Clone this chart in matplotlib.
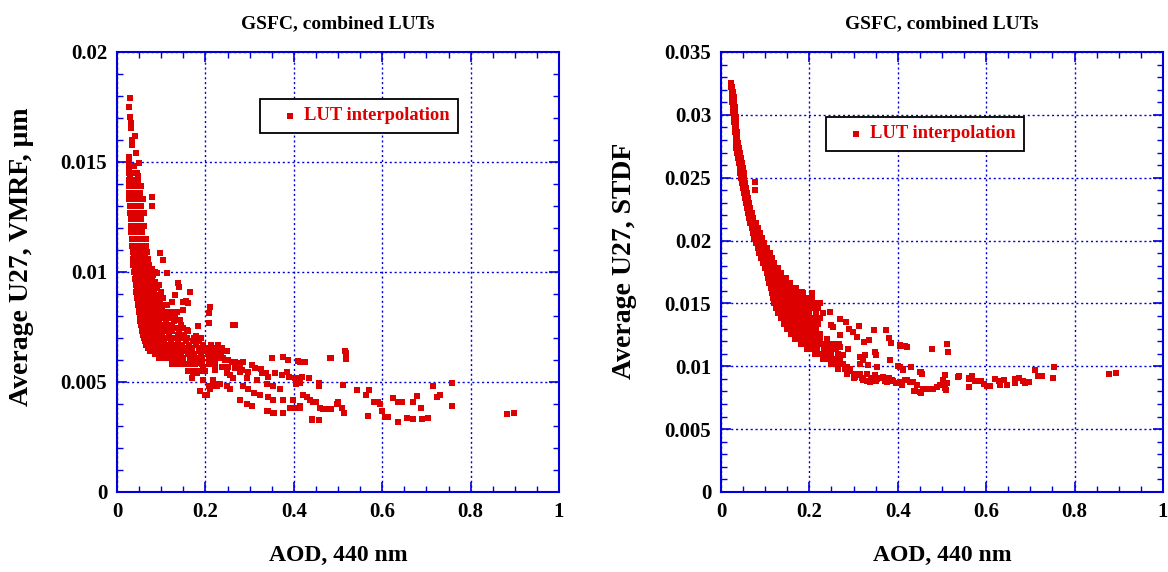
import matplotlib
matplotlib.use("Agg")
import matplotlib.pyplot as plt
from matplotlib.ticker import MultipleLocator, FuncFormatter

# ---------------- data ----------------
title_text = "GSFC, combined LUTs"
legend_text = "LUT interpolation"
x_label = "AOD, 440 nm"
left_ylabel = "Average U27, VMRF, \u03bcm"
right_ylabel = "Average U27, STDF"

# Left panel: dense core, rows of (VMRF, [AOD values])
left_core_rows = [
    (0.0148, [0.026, 0.030, 0.034, 0.038]),
    (0.0145, [0.027, 0.031, 0.036, 0.045]),
    (0.0142, [0.028, 0.033, 0.040, 0.048]),
    (0.0139, [0.026, 0.030, 0.035, 0.041, 0.047, 0.055]),
    (0.0136, [0.028, 0.033, 0.038, 0.044, 0.052]),
    (0.0133, [0.027, 0.031, 0.036, 0.042, 0.049, 0.058]),
    (0.0130, [0.029, 0.034, 0.040, 0.046, 0.054]),
    (0.0127, [0.030, 0.035, 0.041, 0.047, 0.052, 0.060]),
    (0.0124, [0.031, 0.036, 0.042, 0.048, 0.055]),
    (0.0121, [0.032, 0.037, 0.043, 0.049, 0.056, 0.062]),
    (0.0118, [0.032, 0.038, 0.044, 0.050, 0.057]),
    (0.0115, [0.033, 0.039, 0.045, 0.051, 0.058, 0.065]),
    (0.0112, [0.034, 0.040, 0.046, 0.052, 0.059, 0.066]),
    (0.0109, [0.035, 0.041, 0.047, 0.053, 0.060, 0.068]),
    (0.01075, [0.038, 0.044, 0.050, 0.057, 0.064]),
    (0.0106, [0.036, 0.042, 0.048, 0.054, 0.061, 0.070]),
    (0.01045, [0.039, 0.045, 0.052, 0.059, 0.066]),
    (0.0103, [0.037, 0.043, 0.049, 0.055, 0.062, 0.072]),
    (0.01015, [0.041, 0.047, 0.053, 0.060, 0.068, 0.080]),
    (0.0100, [0.039, 0.045, 0.051, 0.057, 0.064, 0.075, 0.085]),
    (0.00985, [0.043, 0.049, 0.055, 0.062, 0.070, 0.082]),
    (0.0097, [0.040, 0.046, 0.052, 0.058, 0.066, 0.078]),
    (0.00955, [0.044, 0.051, 0.057, 0.064, 0.073, 0.087]),
    (0.0094, [0.042, 0.048, 0.054, 0.060, 0.068, 0.080, 0.095]),
    (0.00925, [0.046, 0.053, 0.059, 0.067, 0.076, 0.090]),
    (0.0091, [0.044, 0.050, 0.056, 0.063, 0.071, 0.083, 0.100]),
    (0.00895, [0.045, 0.053, 0.062, 0.072, 0.085]),
    (0.0088, [0.046, 0.052, 0.058, 0.065, 0.072, 0.080, 0.088, 0.097, 0.105]),
    (0.00865, [0.047, 0.055, 0.064, 0.074, 0.086, 0.098]),
    (0.0085, [0.048, 0.054, 0.061, 0.068, 0.075, 0.083, 0.091, 0.100, 0.112]),
    (0.00835, [0.049, 0.057, 0.066, 0.076, 0.088, 0.102]),
    (0.0082, [0.050, 0.056, 0.063, 0.070, 0.077, 0.085, 0.094, 0.104, 0.118, 0.135]),
    (0.00805, [0.051, 0.059, 0.068, 0.079, 0.091, 0.106, 0.125]),
    (0.0079, [0.052, 0.058, 0.065, 0.072, 0.080, 0.088, 0.097, 0.107, 0.120, 0.132]),
    (0.00775, [0.053, 0.061, 0.070, 0.081, 0.094, 0.110, 0.128]),
    (0.0076, [0.054, 0.061, 0.068, 0.075, 0.083, 0.091, 0.100, 0.110, 0.125, 0.145]),
    (0.00745, [0.056, 0.064, 0.074, 0.085, 0.098, 0.115, 0.135, 0.150]),
    (0.0073, [0.057, 0.064, 0.071, 0.078, 0.086, 0.094, 0.103, 0.113, 0.125, 0.140, 0.160]),
    (0.00715, [0.059, 0.067, 0.077, 0.088, 0.101, 0.118, 0.138, 0.152]),
    (0.0070, [0.060, 0.067, 0.074, 0.081, 0.089, 0.097, 0.106, 0.116, 0.128, 0.142,
              0.158, 0.175, 0.190]),
    (0.00685, [0.063, 0.071, 0.081, 0.093, 0.107, 0.122, 0.138, 0.155, 0.172, 0.185]),
    (0.0067, [0.065, 0.072, 0.079, 0.087, 0.095, 0.104, 0.113, 0.123, 0.135, 0.148,
              0.162, 0.178, 0.195, 0.212, 0.228]),
    (0.00655, [0.070, 0.079, 0.089, 0.100, 0.112, 0.126, 0.140, 0.155, 0.170, 0.186,
               0.202, 0.220, 0.238]),
    (0.0064, [0.075, 0.083, 0.091, 0.100, 0.110, 0.120, 0.131, 0.143, 0.156, 0.170,
              0.185, 0.200, 0.215, 0.230, 0.248]),
    (0.00625, [0.085, 0.095, 0.106, 0.118, 0.131, 0.145, 0.160, 0.175, 0.190, 0.205,
               0.220, 0.235]),
    (0.0061, [0.095, 0.104, 0.114, 0.125, 0.137, 0.150, 0.164, 0.178, 0.193, 0.208,
              0.224, 0.240]),
    (0.0058, [0.125, 0.137, 0.150, 0.163, 0.177, 0.192, 0.207, 0.222]),
    (0.0055, [0.160, 0.172, 0.185, 0.200]),
]

# Left panel: individual points (AOD, VMRF)
left_points = [
    (0.029, 0.01789), (0.027, 0.01748), (0.029, 0.01706), (0.032, 0.01676),
    (0.031, 0.01653), (0.041, 0.01618), (0.033, 0.01600), (0.033, 0.01577),
    (0.042, 0.01542), (0.027, 0.01524), (0.027, 0.01501), (0.050, 0.01497),
    (0.026, 0.01471), (0.047, 0.01436), (0.030, 0.01432),
    (0.080, 0.01342), (0.080, 0.01300), (0.097, 0.01088), (0.105, 0.01054),
    (0.112, 0.00994), (0.090, 0.00994), (0.139, 0.00949), (0.141, 0.00930),
    (0.165, 0.00910), (0.131, 0.00895), (0.124, 0.00865), (0.150, 0.00865),
    (0.157, 0.00870), (0.160, 0.00860), (0.150, 0.00827), (0.210, 0.00842),
    (0.208, 0.00815), (0.207, 0.00770), (0.122, 0.00820), (0.143, 0.00782),
    (0.184, 0.00755), (0.158, 0.00736), (0.263, 0.00760), (0.178, 0.00710),
    (0.188, 0.00460), (0.199, 0.00440), (0.169, 0.00520), (0.207, 0.00480),
    (0.222, 0.00490), (0.227, 0.00480), (0.278, 0.00420), (0.293, 0.00400),
    (0.305, 0.00390), (0.341, 0.00370), (0.356, 0.00360), (0.376, 0.00360),
    (0.391, 0.00380), (0.410, 0.00380), (0.440, 0.00330),
    (0.516, 0.00642), (0.518, 0.00630), (0.519, 0.00603), (0.483, 0.00609),
    (0.414, 0.00592), (0.425, 0.00592), (0.435, 0.00520), (0.414, 0.00494),
    (0.456, 0.00494), (0.458, 0.00482), (0.511, 0.00486), (0.542, 0.00464),
    (0.563, 0.00440), (0.570, 0.00464), (0.581, 0.00410), (0.590, 0.00410),
    (0.595, 0.00400), (0.599, 0.00370), (0.567, 0.00347), (0.606, 0.00342),
    (0.614, 0.00342), (0.625, 0.00426), (0.636, 0.00410), (0.644, 0.00410),
    (0.635, 0.00320), (0.655, 0.00338), (0.669, 0.00330), (0.669, 0.00410),
    (0.679, 0.00438), (0.688, 0.00380), (0.691, 0.00330), (0.703, 0.00338),
    (0.716, 0.00482), (0.725, 0.00433), (0.731, 0.00440), (0.758, 0.00494),
    (0.758, 0.00390), (0.883, 0.00353), (0.899, 0.00360),
    (0.421, 0.00440), (0.429, 0.00433), (0.437, 0.00420), (0.444, 0.00410),
    (0.450, 0.00410), (0.459, 0.00380), (0.466, 0.00375), (0.474, 0.00375),
    (0.483, 0.00375), (0.497, 0.00400), (0.501, 0.00410), (0.510, 0.00380),
    (0.514, 0.00360), (0.414, 0.00390), (0.441, 0.00327), (0.456, 0.00327),
    (0.267, 0.00760), (0.350, 0.00608), (0.376, 0.00615), (0.387, 0.00600),
    (0.410, 0.00597), (0.482, 0.00608), (0.384, 0.00547), (0.412, 0.00517),
    (0.406, 0.00490), (0.336, 0.00540), (0.326, 0.00557), (0.305, 0.00577),
    (0.286, 0.00590), (0.279, 0.00567), (0.248, 0.00540), (0.263, 0.00520),
    (0.293, 0.00520), (0.316, 0.00510), (0.339, 0.00490), (0.354, 0.00480),
    (0.369, 0.00466), (0.286, 0.00480), (0.297, 0.00466), (0.309, 0.00449),
    (0.324, 0.00440), (0.342, 0.00433), (0.354, 0.00420), (0.376, 0.00420),
    (0.399, 0.00420), (0.278, 0.00420), (0.293, 0.00400), (0.339, 0.00370),
    (0.354, 0.00358), (0.376, 0.00358), (0.399, 0.00380), (0.414, 0.00380),
    (0.456, 0.00327), (0.248, 0.00480), (0.256, 0.00466), (0.225, 0.00480),
    (0.210, 0.00466), (0.203, 0.00440), (0.233, 0.00490), (0.218, 0.00510),
    (0.195, 0.00510), (0.180, 0.00540),
    (0.207, 0.00630), (0.214, 0.00623), (0.222, 0.00615), (0.229, 0.00615),
    (0.237, 0.00608), (0.244, 0.00600), (0.252, 0.00600), (0.260, 0.00592),
    (0.267, 0.00592), (0.274, 0.00585), (0.207, 0.00600), (0.222, 0.00585),
    (0.237, 0.00570), (0.252, 0.00570), (0.267, 0.00562), (0.282, 0.00555),
    (0.297, 0.00547), (0.312, 0.00562), (0.327, 0.00540), (0.342, 0.00524),
    (0.357, 0.00540), (0.373, 0.00532), (0.388, 0.00524), (0.403, 0.00517),
    (0.418, 0.00521), (0.256, 0.00532), (0.278, 0.00547), (0.222, 0.00555),
    (0.195, 0.00562), (0.180, 0.00585), (0.173, 0.00547),
]

# Right panel: dense core, rows of (STDF, [AOD values])
right_core_rows = [
    (0.0325, [0.022]),
    (0.0322, [0.023, 0.026]),
    (0.0318, [0.024, 0.028]),
    (0.0314, [0.025, 0.029]),
    (0.0310, [0.026, 0.030]),
    (0.0306, [0.027, 0.031]),
    (0.0302, [0.028, 0.032]),
    (0.0298, [0.029, 0.033]),
    (0.0294, [0.030, 0.034]),
    (0.0290, [0.031, 0.035]),
    (0.0286, [0.032, 0.036]),
    (0.0282, [0.033, 0.037]),
    (0.0278, [0.034, 0.038]),
    (0.0274, [0.035, 0.039, 0.041]),
    (0.0270, [0.036, 0.040, 0.043]),
    (0.0266, [0.038, 0.042, 0.045]),
    (0.0262, [0.040, 0.044, 0.047]),
    (0.0258, [0.042, 0.046, 0.049]),
    (0.0254, [0.044, 0.048, 0.051]),
    (0.0250, [0.046, 0.050, 0.053]),
    (0.0246, [0.048, 0.052, 0.055]),
    (0.0242, [0.050, 0.054, 0.057]),
    (0.0238, [0.052, 0.056, 0.059]),
    (0.0234, [0.054, 0.058, 0.062]),
    (0.0230, [0.056, 0.060, 0.064]),
    (0.0226, [0.058, 0.062, 0.066]),
    (0.0222, [0.061, 0.065, 0.069]),
    (0.0218, [0.063, 0.068, 0.072]),
    (0.0214, [0.066, 0.071, 0.076, 0.080]),
    (0.0210, [0.069, 0.074, 0.079, 0.084]),
    (0.0206, [0.072, 0.078, 0.083, 0.088]),
    (0.0202, [0.075, 0.081, 0.087, 0.092]),
    (0.0198, [0.079, 0.085, 0.091, 0.097]),
    (0.0194, [0.083, 0.089, 0.095, 0.101, 0.105]),
    (0.0190, [0.087, 0.093, 0.099, 0.105, 0.110]),
    (0.0186, [0.091, 0.097, 0.103, 0.109, 0.115]),
    (0.0182, [0.095, 0.101, 0.107, 0.113, 0.120]),
    (0.0178, [0.099, 0.105, 0.111, 0.117, 0.124, 0.130]),
    (0.0174, [0.103, 0.109, 0.115, 0.122, 0.129, 0.136]),
    (0.0170, [0.106, 0.112, 0.119, 0.126, 0.133, 0.140, 0.148]),
    (0.0166, [0.109, 0.116, 0.123, 0.130, 0.137, 0.145, 0.155]),
    (0.0162, [0.112, 0.119, 0.126, 0.134, 0.142, 0.150, 0.160, 0.170]),
    (0.0158, [0.115, 0.122, 0.130, 0.138, 0.146, 0.155, 0.165, 0.175, 0.185]),
    (0.0154, [0.118, 0.126, 0.134, 0.142, 0.150, 0.160, 0.170, 0.180, 0.192, 0.205]),
    (0.0150, [0.121, 0.129, 0.137, 0.146, 0.155, 0.165, 0.175, 0.186, 0.198, 0.212, 0.225]),
    (0.0146, [0.125, 0.133, 0.141, 0.150, 0.160, 0.170, 0.180, 0.192, 0.205, 0.220]),
    (0.0142, [0.130, 0.138, 0.147, 0.156, 0.165, 0.176, 0.188, 0.200, 0.215, 0.230]),
    (0.0138, [0.136, 0.144, 0.153, 0.162, 0.172, 0.184, 0.196, 0.210, 0.225]),
    (0.0134, [0.142, 0.150, 0.159, 0.169, 0.180, 0.192, 0.205, 0.220]),
    (0.0130, [0.150, 0.158, 0.167, 0.178, 0.190, 0.202, 0.215]),
    (0.0126, [0.158, 0.167, 0.177, 0.188, 0.200, 0.212, 0.225]),
    (0.0122, [0.168, 0.178, 0.188, 0.200, 0.212, 0.225, 0.240]),
    (0.0118, [0.180, 0.190, 0.202, 0.215, 0.228, 0.242, 0.258]),
    (0.0114, [0.195, 0.206, 0.218, 0.232, 0.246, 0.260]),
    (0.0110, [0.212, 0.224, 0.236, 0.250, 0.265]),
    (0.0106, [0.230, 0.242, 0.256, 0.270]),
    (0.0102, [0.248, 0.262, 0.276]),
    (0.0098, [0.265, 0.280, 0.292]),
    (0.0094, [0.285, 0.300, 0.315, 0.330]),
    (0.0091, [0.300, 0.320, 0.340, 0.360, 0.380]),
    (0.0088, [0.330, 0.350, 0.370, 0.390]),
]

# Right panel: individual points (AOD, STDF)
right_points = [
    (0.077, 0.02463), (0.077, 0.02400), (0.205, 0.01580), (0.183, 0.01590),
    (0.247, 0.01431), (0.269, 0.01378), (0.283, 0.01352), (0.250, 0.01325),
    (0.254, 0.01310), (0.269, 0.01246), (0.290, 0.01300), (0.299, 0.01272),
    (0.312, 0.01317), (0.307, 0.01233), (0.324, 0.01193), (0.335, 0.01212),
    (0.346, 0.01286), (0.373, 0.01291), (0.379, 0.01228), (0.385, 0.01188),
    (0.405, 0.01159), (0.416, 0.01159), (0.478, 0.01140), (0.511, 0.01180),
    (0.514, 0.01114), (0.247, 0.01180), (0.268, 0.01180), (0.250, 0.01127),
    (0.270, 0.01150), (0.288, 0.01140), (0.277, 0.01087), (0.314, 0.01074),
    (0.326, 0.01087), (0.322, 0.01048), (0.333, 0.01008), (0.348, 0.01114),
    (0.350, 0.01087), (0.352, 0.00995), (0.314, 0.01022), (0.382, 0.01053),
    (0.401, 0.01000), (0.412, 0.00982), (0.431, 0.00995), (0.452, 0.00955),
    (0.284, 0.00995), (0.292, 0.00960), (0.303, 0.00915), (0.314, 0.00929),
    (0.322, 0.00889), (0.337, 0.00876), (0.348, 0.00929), (0.354, 0.00902),
    (0.367, 0.00915), (0.375, 0.00876), (0.386, 0.00889), (0.397, 0.00863),
    (0.409, 0.00850), (0.420, 0.00889), (0.431, 0.00876), (0.443, 0.00850),
    (0.458, 0.00823), (0.480, 0.00823), (0.499, 0.00850), (0.507, 0.00929),
    (0.511, 0.00863), (0.507, 0.00830), (0.437, 0.00804), (0.452, 0.00791),
    (0.538, 0.00920), (0.562, 0.00910), (0.569, 0.00920), (0.582, 0.00881),
    (0.562, 0.00836),
    (0.405, 0.01167), (0.420, 0.01154), (0.405, 0.00995), (0.412, 0.00968),
    (0.450, 0.00955), (0.455, 0.00942), (0.405, 0.00876), (0.416, 0.00889),
    (0.428, 0.00876), (0.435, 0.00876), (0.439, 0.00804), (0.450, 0.00796),
    (0.465, 0.00823), (0.479, 0.00823), (0.488, 0.00836), (0.495, 0.00850),
    (0.502, 0.00889), (0.509, 0.00815), (0.537, 0.00915), (0.560, 0.00902),
    (0.568, 0.00915), (0.575, 0.00881), (0.584, 0.00881), (0.589, 0.00881),
    (0.595, 0.00855), (0.601, 0.00844), (0.608, 0.00844), (0.620, 0.00897),
    (0.629, 0.00881), (0.631, 0.00850), (0.640, 0.00889), (0.647, 0.00850),
    (0.665, 0.00863), (0.665, 0.00902), (0.675, 0.00907), (0.684, 0.00881),
    (0.688, 0.00863), (0.697, 0.00871), (0.710, 0.00968), (0.718, 0.00920),
    (0.726, 0.00920), (0.753, 0.00995), (0.752, 0.00910), (0.878, 0.00937),
    (0.894, 0.00947),
]

left_ylim = (0, 0.02)
right_ylim = (0, 0.035)
y_major = 0.005
y_minor = 0.001
x_major = 0.2
x_minor = 0.05

# ---------------- drawing ----------------
RED = "#dd0000"
BLUE = "#0000dd"
FONT = "Liberation Serif"
plt.rcParams["font.family"] = [FONT, "DejaVu Serif"]
plt.rcParams["font.weight"] = "bold"


def expand(rows, points):
    xs, ys = [], []
    for yv, xl in rows:
        for xv in xl:
            xs.append(xv)
            ys.append(yv)
    for xv, yv in points:
        xs.append(xv)
        ys.append(yv)
    return xs, ys


fig = plt.figure(figsize=(11.68, 5.72), dpi=100)
ax1 = fig.add_axes([0.1002, 0.1399, 0.3784, 0.7692])
ax2 = fig.add_axes([0.6173, 0.1399, 0.3784, 0.7692])

fmt = FuncFormatter(lambda v, p: "0" if abs(v) < 1e-12 else ("%g" % round(v, 6)))

panels = [
    (ax1, left_core_rows, left_points, left_ylim, left_ylabel, (0.3235, 0.893),
     (-0.188, 0.534)),
    (ax2, right_core_rows, right_points, right_ylim, right_ylabel, (0.2376, 0.852),
     (-0.190, 0.525)),
]

for ax, rows, pts, ylim, ylab, leg_pos, ylab_pos in panels:
    xs, ys = expand(rows, pts)
    ax.scatter(xs, ys, s=17, marker="s", color=RED, linewidths=0,
               label=legend_text, zorder=3)
    ax.set_xlim(0, 1)
    ax.set_ylim(*ylim)
    ax.xaxis.set_major_locator(MultipleLocator(x_major))
    ax.xaxis.set_minor_locator(MultipleLocator(x_minor))
    ax.yaxis.set_major_locator(MultipleLocator(y_major))
    ax.yaxis.set_minor_locator(MultipleLocator(y_minor))
    ax.xaxis.set_major_formatter(fmt)
    ax.yaxis.set_major_formatter(fmt)
    ax.grid(True, which="major", color=BLUE, linestyle=(0, (1.5, 2.0)),
            linewidth=1.0, zorder=1)
    for sp in ax.spines.values():
        sp.set_color(BLUE)
        sp.set_linewidth(1.5)
    ax.tick_params(which="both", direction="in", top=True, right=True,
                   color=BLUE, labelsize=15, pad=7)
    ax.tick_params(which="major", length=7, width=1.2)
    ax.tick_params(which="minor", length=4, width=1.0)
    for lab in ax.get_xticklabels() + ax.get_yticklabels():
        lab.set_fontweight("bold")
    ax.set_title(title_text, fontsize=14, fontweight="bold", pad=17)
    ax.set_xlabel(x_label, fontsize=17, fontweight="bold", labelpad=17)
    ax.set_ylabel(ylab, fontsize=20, fontweight="bold")
    ax.yaxis.set_label_coords(*ylab_pos)
    leg = ax.legend(loc="upper left", bbox_to_anchor=leg_pos, frameon=True,
                    fancybox=False, shadow=False, edgecolor="black",
                    fontsize=13.3, markerscale=1.0, handlelength=2.3,
                    handletextpad=-0.35, borderpad=0.45, borderaxespad=0,
                    labelcolor=RED, scatterpoints=1)
    leg.get_frame().set_linewidth(1.3)
    leg.get_frame().set_alpha(1.0)
    leg.set_zorder(5)
    for t in leg.get_texts():
        t.set_fontweight("bold")

fig.savefig("out.png", dpi=100)
